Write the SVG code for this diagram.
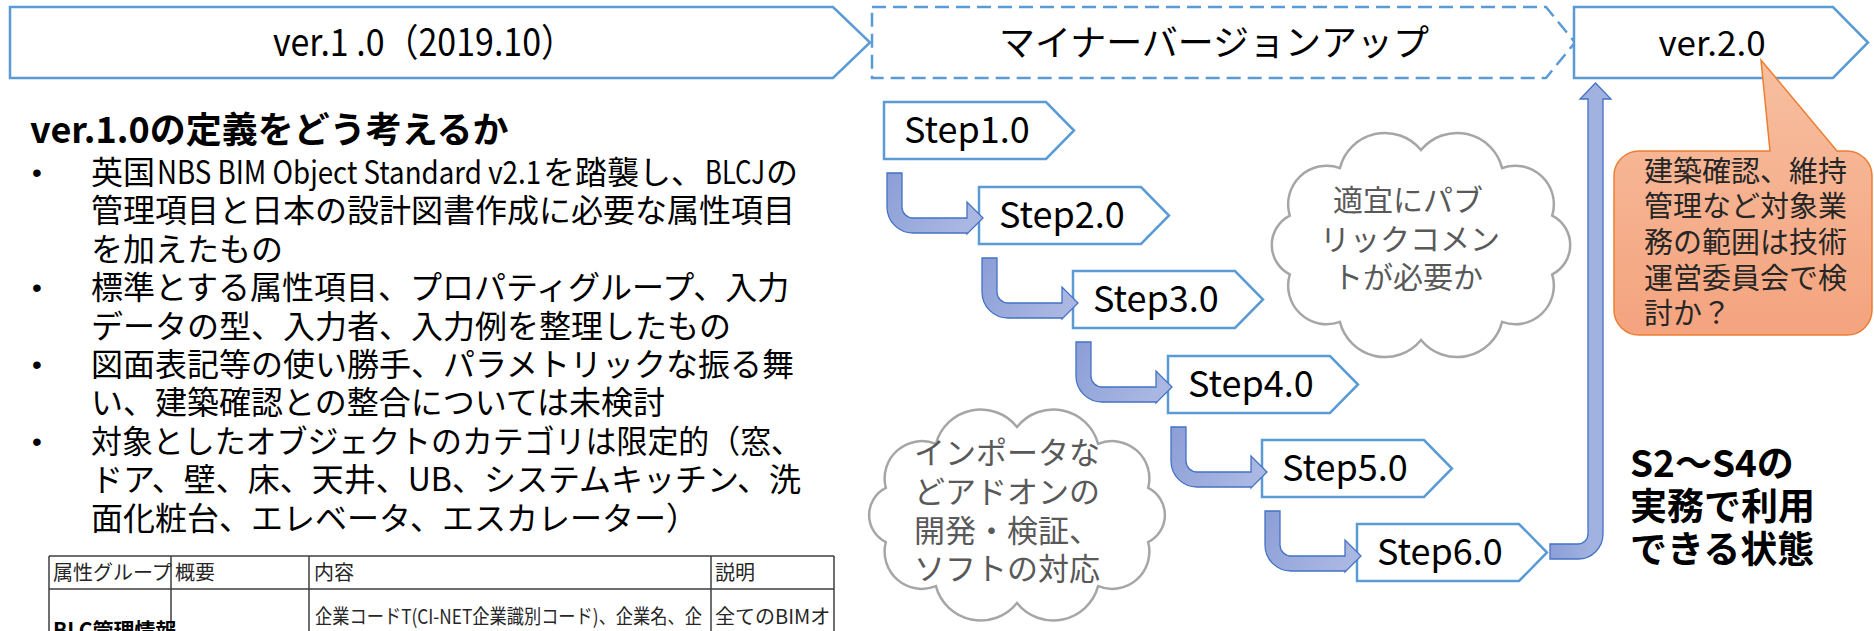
<svg xmlns="http://www.w3.org/2000/svg" width="1874" height="631" viewBox="0 0 1874 631">
<defs>
<linearGradient id="gArr" x1="0" y1="0" x2="1" y2="0.4">
<stop offset="0" stop-color="#8B9ED6"/>
<stop offset="1" stop-color="#A9B7E2"/>
</linearGradient>
<linearGradient id="gBig" x1="0" y1="0" x2="0.7" y2="0">
<stop offset="0" stop-color="#8C9FD7"/>
<stop offset="1" stop-color="#A2B2E0"/>
</linearGradient>
<linearGradient id="gCall" x1="0" y1="0" x2="0" y2="1">
<stop offset="0" stop-color="#F7BFA0"/>
<stop offset="1" stop-color="#F4A37E"/>
</linearGradient>
<style>
.bn{fill:#fff;stroke:#5B9BD5;stroke-width:2.5}
.dash{stroke-dasharray:14 7}
.st{fill:#fff;stroke:#5B9BD5;stroke-width:2.5}
.cloud{fill:#fff;stroke:#A6A6A6;stroke-width:2.5}
.arr{fill:url(#gArr);stroke:#4472C4;stroke-width:1.3}
.big{fill:url(#gBig);stroke:#4472C4;stroke-width:1.3}
.call{fill:url(#gCall);stroke:#ED7D31;stroke-width:1.5}
.t{font-family:"Noto Sans CJK JP","Noto Sans",sans-serif;fill:#000}
.ban{font-size:36px}
.stp{font-size:36px}
.bul{font-size:32px}
.dot{font-family:"Liberation Sans",sans-serif;font-size:28px;fill:#000}
.cl{font-size:30px;fill:#595959}
.cl2{font-size:31px;fill:#595959}
.co{font-size:29px;fill:#262626}
.bold{font-weight:bold}
.tb{font-size:19px;fill:#262626}
.tl{stroke:#3F3F3F;stroke-width:1.5;fill:none}
</style>
</defs>
<rect width="1874" height="631" fill="#fff"/>

<g id="banner-v1">
<path class="bn" d="M10,7 H833 L870,42.5 L833,78 H10 Z"/>
<text class="t ban" x="424" y="56" text-anchor="middle" textLength="302" lengthAdjust="spacingAndGlyphs" style="font-size:38px">ver.1 .0（2019.10）</text>
</g>
<g id="banner-minor">
<path class="bn dash" d="M872,7 H1546 L1575,42.5 L1546,78 H872 Z"/>
<text class="t ban" x="1214" y="56" text-anchor="middle">マイナーバージョンアップ</text>
</g>
<g id="banner-v2">
<path class="bn" d="M1574,7 H1833 L1868,42.5 L1833,78 H1574 Z"/>
<text class="t ban" x="1712" y="56" text-anchor="middle" style="font-size:35px">ver.2.0</text>
</g>

<g id="heading">
<text class="t bold" x="30" y="143" style="font-size:36px">ver.1.0の定義をどう考えるか</text>
</g>
<g id="bullets">
<text class="dot" x="37" y="182" text-anchor="middle">•</text>
<text class="dot" x="37" y="297" text-anchor="middle">•</text>
<text class="dot" x="37" y="374" text-anchor="middle">•</text>
<text class="dot" x="37" y="451" text-anchor="middle">•</text>
<text class="t bul"><tspan x="91" y="184">英国</tspan><tspan x="157" y="184" textLength="384" lengthAdjust="spacingAndGlyphs">NBS BIM Object Standard v2.1</tspan><tspan x="543" y="184">を踏襲し、</tspan><tspan x="705" y="184" textLength="60" lengthAdjust="spacingAndGlyphs">BLCJ</tspan><tspan x="766" y="184">の</tspan><tspan x="91" y="222">管理項目と日本の設計図書作成に必要な属性項目</tspan><tspan x="91" y="261">を加えたもの</tspan></text>
<text class="t bul"><tspan x="91" y="299">標準とする属性項目、プロパティグループ、入力</tspan><tspan x="91" y="338">データの型、入力者、入力例を整理したもの</tspan></text>
<text class="t bul"><tspan x="91" y="376">図面表記等の使い勝手、パラメトリックな振る舞</tspan><tspan x="91" y="414">い、建築確認との整合については未検討</tspan></text>
<text class="t bul"><tspan x="91" y="453" textLength="711" lengthAdjust="spacingAndGlyphs">対象としたオブジェクトのカテゴリは限定的（窓、</tspan><tspan x="91" y="491">ドア、壁、床、天井、UB、システムキッチン、洗</tspan><tspan x="91" y="530">面化粧台、エレベータ、エスカレーター）</tspan></text>
</g>

<g id="table">
<path class="tl" d="M49,556 H834 M49,589 H834 M49,556 V640 M171,556 V640 M309,556 V640 M711,556 V640 M834,556 V640"/>
<text class="t tb" x="53" y="580" style="font-size:20px">属性グループ</text>
<text class="t tb" x="175" y="580" style="font-size:20px">概要</text>
<text class="t tb" x="314" y="580" style="font-size:20px">内容</text>
<text class="t tb" x="715" y="580" style="font-size:20px">説明</text>
<text class="t tb" x="315" y="624" textLength="387" lengthAdjust="spacingAndGlyphs" style="font-size:20px">企業コードT(CI-NET企業識別コード)、企業名、企</text>
<text class="t tb" x="715" y="624" style="font-size:20px">全てのBIMオ</text>
<text class="t tb bold" x="53" y="638" style="font-size:21px;fill:#000">BLC管理情報</text>
</g>

<g id="step1">
<path class="st" d="M884,102 H1046 L1074,130.5 L1046,159 H884 Z"/>
<text class="t stp" x="904" y="143">Step1.0</text>
</g>
<g id="step2">
<path class="st" d="M979,187 H1141 L1169,215.5 L1141,244 H979 Z"/>
<text class="t stp" x="999" y="228">Step2.0</text>
</g>
<g id="step3">
<path class="st" d="M1073,271 H1235 L1263,299.5 L1235,328 H1073 Z"/>
<text class="t stp" x="1093" y="312">Step3.0</text>
</g>
<g id="step4">
<path class="st" d="M1168,356 H1330 L1358,384.5 L1330,413 H1168 Z"/>
<text class="t stp" x="1188" y="397">Step4.0</text>
</g>
<g id="step5">
<path class="st" d="M1262,440 H1424 L1452,468.5 L1424,497 H1262 Z"/>
<text class="t stp" x="1282" y="481">Step5.0</text>
</g>
<g id="step6">
<path class="st" d="M1357,524 H1519 L1547,552.5 L1519,581 H1357 Z"/>
<text class="t stp" x="1377" y="565">Step6.0</text>
</g>

<g id="cloud-comment">
<path class="cloud" d="M1421,150 A46.5,46.5 0 0 1 1502.1,168.1 A38.6,38.6 0 0 1 1552.2,215.6 A33,33 0 0 1 1552.2,274.4 A38.6,38.6 0 0 1 1502.1,321.9 A46.5,46.5 0 0 1 1421,340 A46.5,46.5 0 0 1 1339.9,321.9 A38.6,38.6 0 0 1 1289.8,274.4 A33,33 0 0 1 1289.8,215.6 A38.6,38.6 0 0 1 1339.9,168.1 A46.5,46.5 0 0 1 1421,150 Z"/>
<text class="t cl" text-anchor="middle"><tspan x="1408" y="211">適宜にパブ</tspan><tspan x="1410" y="250">リックコメン</tspan><tspan x="1408" y="288">トが必要か</tspan></text>
</g>
<g id="cloud-addon">
<path class="cloud" d="M1017,427 A46.4,46.4 0 0 1 1098.1,443.8 A37.4,37.4 0 0 1 1148.2,487.8 A30.5,30.5 0 0 1 1148.2,542.2 A37.4,37.4 0 0 1 1098.1,586.2 A46.4,46.4 0 0 1 1017,603 A46.4,46.4 0 0 1 935.9,586.2 A37.4,37.4 0 0 1 885.8,542.2 A30.5,30.5 0 0 1 885.8,487.8 A37.4,37.4 0 0 1 935.9,443.8 A46.4,46.4 0 0 1 1017,427 Z"/>
<text class="t cl2"><tspan x="914" y="464">インポータな</tspan><tspan x="914" y="503">どアドオンの</tspan><tspan x="914" y="542">開発・検証、</tspan><tspan x="914" y="580">ソフトの対応</tspan></text>
</g>

<g id="connectors">
<path class="arr" d="M887,173 L902,173 L902,207 A11,11 0 0 0 913,218 L967,218 L967,202 L983,218 L967,234 L967,233 L913,233 A26,26 0 0 1 887,207 Z"/>
<path class="arr" d="M982,258 L997,258 L997,292 A11,11 0 0 0 1008,303 L1062,303 L1062,287 L1078,303 L1062,319 L1062,318 L1008,318 A26,26 0 0 1 982,292 Z"/>
<path class="arr" d="M1076,342 L1091,342 L1091,376 A11,11 0 0 0 1102,387 L1156,387 L1156,371 L1172,387 L1156,403 L1156,402 L1102,402 A26,26 0 0 1 1076,376 Z"/>
<path class="arr" d="M1171,427 L1186,427 L1186,461 A11,11 0 0 0 1197,472 L1251,472 L1251,456 L1267,472 L1251,488 L1251,487 L1197,487 A26,26 0 0 1 1171,461 Z"/>
<path class="arr" d="M1265,511 L1280,511 L1280,545 A11,11 0 0 0 1291,556 L1345,556 L1345,540 L1361,556 L1345,572 L1345,571 L1291,571 A26,26 0 0 1 1265,545 Z"/>
<path class="big" d="M1550,544 L1578,544 A10,10 0 0 0 1588,534 L1588,99 L1580,99 L1595.5,83 L1611,99 L1603,99 L1603,534 A25,25 0 0 1 1578,559 L1550,559 Z"/>
</g>

<g id="callout">
<path class="call" d="M1639,151 H1770 L1761,60 L1837,151 H1847 A25,25 0 0 1 1872,176 V310 A25,25 0 0 1 1847,335 H1639 A25,25 0 0 1 1614,310 V176 A25,25 0 0 1 1639,151 Z"/>
<text class="t co"><tspan x="1644" y="182">建築確認、維持</tspan><tspan x="1644" y="217">管理など対象業</tspan><tspan x="1644" y="253">務の範囲は技術</tspan><tspan x="1644" y="289">運営委員会で検</tspan><tspan x="1644" y="324">討か？</tspan></text>
</g>

<g id="note-s2s4">
<text class="t bold" style="font-size:37px"><tspan x="1630" y="477">S2～S4の</tspan><tspan x="1630" y="520">実務で利用</tspan><tspan x="1630" y="563">できる状態</tspan></text>
</g>
</svg>
